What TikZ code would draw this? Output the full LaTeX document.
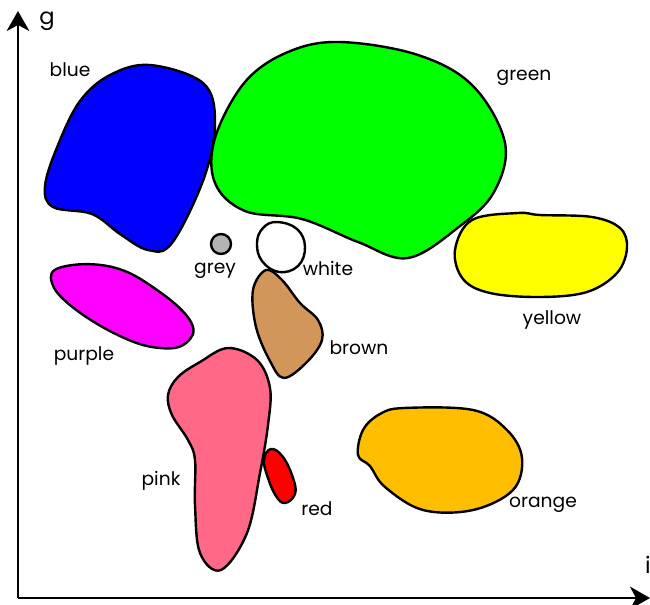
\documentclass[tikz,border=0pt]{standalone}
\usepackage{fontspec}
\setmainfont{Poppins}
\usetikzlibrary{arrows.meta}
\definecolor{cblue}{RGB}{0,0,255}
\definecolor{cgreen}{RGB}{0,255,0}
\definecolor{cyellow}{RGB}{255,255,0}
\definecolor{cgrey}{RGB}{179,179,179}
\definecolor{cbrown}{RGB}{211,150,90}
\definecolor{cpurple}{RGB}{255,0,255}
\definecolor{cpink}{RGB}{255,105,135}
\definecolor{cred}{RGB}{255,0,0}
\definecolor{corange}{RGB}{255,190,0}
\tikzset{
  blob/.style={draw=black, line width=1.8pt, line join=round},
  lbl/.style={font=\fontsize{14}{17}\selectfont, inner sep=0pt},
  axis/.style={line width=1.7pt, -{Stealth[length=15pt,width=17pt,inset=4.5pt]}}
}
\begin{document}
\begin{tikzpicture}[x=0.75pt,y=-0.75pt]
\useasboundingbox (0,0) rectangle (650,604);
% axes
\coordinate (O) at (18,598);
\coordinate (Ytop) at (18,11);
\coordinate (Xend) at (650,598);
\draw[axis] (O) -- (Ytop);
\draw[axis] (O) -- (Xend);
\node[lbl, font=\fontsize{17}{20}\selectfont] (g) at (47,21) {g};
\node[lbl, font=\fontsize{17}{20}\selectfont, anchor=east] (i) at (651,565) {i};
% blue
\draw[blob, fill=cblue] plot[smooth cycle, tension=0.6] coordinates {
 (150,65) (203,83) (215,122) (204,178) (172,243) (148,250) (120,234) (92,214) (53,207) (45,186) (58,145) (80,101) (110,75)};
% green
\draw[blob, fill=cgreen] plot[smooth cycle, tension=0.6] coordinates {
 (340,42) (418,55) (473,86) (505,143) (494,192) (460,226) (408,258) (358,242) (302,219) (245,211) (215,183) (215,138) (245,82) (288,52)};
% grey
\draw[blob, fill=cgrey] (221,244) circle (10);
% white
\draw[blob, fill=white] plot[smooth cycle, tension=0.7] coordinates {
 (277,222) (297,229) (305,247) (298,266) (279,272) (262,261) (257,243) (263,228)};
% brown
\draw[blob, fill=cbrown] plot[smooth cycle, tension=0.6] coordinates {
 (266,270) (282,280) (300,303) (318,320) (322,340) (307,362) (284,378) (270,361) (256,327) (253,290)};
% purple
\draw[blob, fill=cpurple] plot[smooth cycle, tension=0.7] coordinates {
 (62,267) (112,267) (157,290) (191,322) (186,343) (160,348) (122,337) (75,309) (52,283)};
% pink
\draw[blob, fill=cpink] plot[smooth cycle, tension=0.6] coordinates {
 (228,348) (257,360) (270,388) (268,425) (260,473) (247,533) (221,570) (200,553) (195,505) (195,460) (188,440) (172,415) (168,395) (178,377) (200,362)};
% red
\draw[blob, fill=cred] plot[smooth cycle, tension=0.7] coordinates {
 (271,449) (283,457) (293,478) (295,494) (285,503) (276,496) (268,478) (264,460)};
% yellow
\draw[blob, fill=cyellow] plot[smooth cycle, tension=0.6] coordinates {
 (472,220) (518,213) (540,215) (592,217) (620,228) (627,248) (617,273) (587,292) (540,297) (490,293) (463,279) (455,250)};
% orange
\draw[blob, fill=corange] plot[smooth cycle, tension=0.6] coordinates {
 (404,408) (473,410) (507,430) (522,458) (513,490) (473,510) (423,510) (385,487) (370,466) (358,455) (363,430) (380,414)};
% labels
\node[lbl] (lblue) at (70,70) {blue};
\node[lbl] (lgreen) at (524,78) {green};
\node[lbl] (lgrey) at (215,271) {grey};
\node[lbl] (lwhite) at (328,268) {white};
\node[lbl] (lbrown) at (359,348) {brown};
\node[lbl] (lpurple) at (84,356) {purple};
\node[lbl] (lyellow) at (552,320) {yellow};
\node[lbl] (lpink) at (161,481) {pink};
\node[lbl] (lred) at (317,509) {red};
\node[lbl] (lorange) at (543,505) {orange};
\end{tikzpicture}
\end{document}
